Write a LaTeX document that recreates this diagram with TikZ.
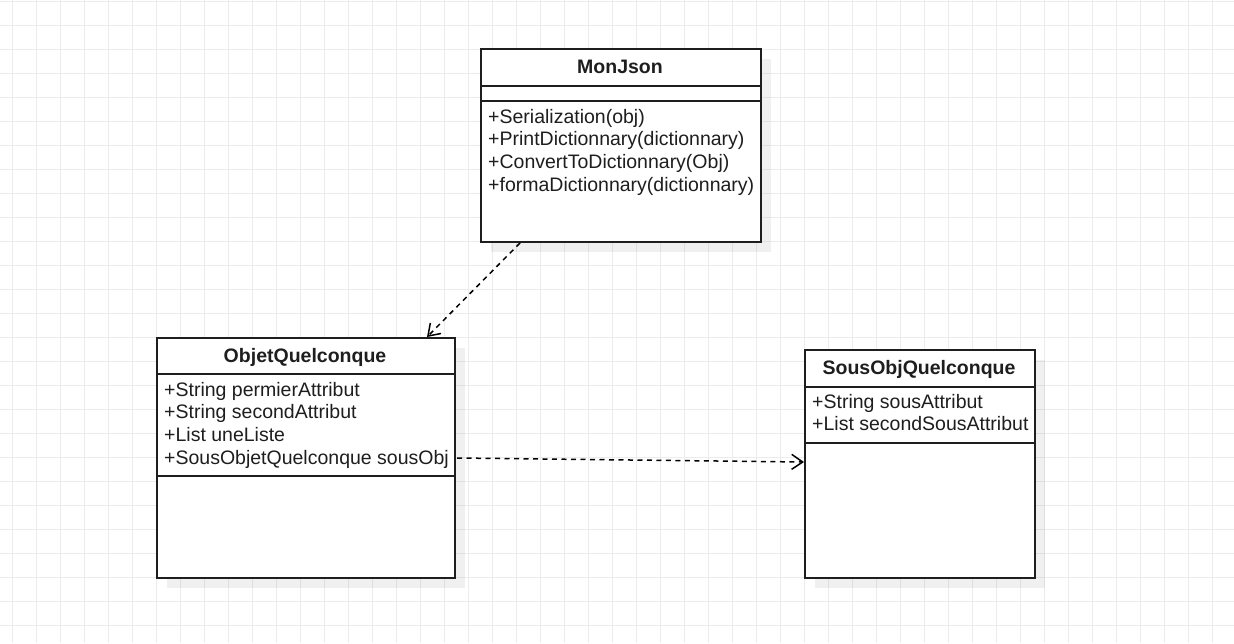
\documentclass[tikz,border=0pt]{standalone}
\usepackage{fontspec}
\setmainfont{Liberation Sans}
\usetikzlibrary{arrows.meta,calc,shadows}
\definecolor{gridgray}{RGB}{236,236,236}
\definecolor{ink}{RGB}{30,30,30}
\begin{document}
\begin{tikzpicture}[x=1pt,y=-1pt,
  classbox/.style={draw=ink, line width=2pt, fill=white, inner sep=0pt, anchor=north west,
    drop shadow={shadow xshift=10pt, shadow yshift=-10pt, fill=black, opacity=0.06}},
  sepline/.style={draw=ink, line width=1.8pt},
  classname/.style={font=\fontsize{19.5}{22}\selectfont\bfseries, text=ink, inner sep=0pt, anchor=base},
  member/.style={font=\fontsize{19.5}{22}\selectfont, text=ink, inner sep=0pt, anchor=base west},
  dep/.style={draw=black, line width=1.5pt, dash pattern=on 5pt off 4.5pt,
    -{Straight Barb[length=11pt,width=15pt,line width=1.5pt]}},
  gridline/.style={draw=gridgray, line width=1pt}]
\useasboundingbox (0,0) rectangle (1234,643);
\fill[white] (0,0) rectangle (1234,643);
% background grid
\foreach \x in {12,36,...,1236} \draw[gridline] (\x,0) -- (\x,643);
\foreach \y in {1,25,...,643} \draw[gridline] (0,\y) -- (1234,\y);

% MonJson
\node[classbox, minimum width=280pt, minimum height=193pt] (mj) at (480,48) {};
\draw[sepline] ($(mj.north west)+(0,38)$) -- ($(mj.north east)+(0,38)$);
\draw[sepline] ($(mj.north west)+(0,53)$) -- ($(mj.north east)+(0,53)$);
\node[classname] (mjt) at (620,73) {MonJson};
\node[member] (mj1) at (488,123) {+Serialization(obj)};
\node[member] (mj2) at (488,145.7) {+PrintDictionnary(dictionnary)};
\node[member] (mj3) at (488,168.4) {+ConvertToDictionnary(Obj)};
\node[member] (mj4) at (488,191.1) {+formaDictionnary(dictionnary)};

% ObjetQuelconque
\node[classbox, minimum width=298pt, minimum height=240pt] (oq) at (156,337) {};
\draw[sepline] ($(oq.north west)+(0,37)$) -- ($(oq.north east)+(0,37)$);
\draw[sepline] ($(oq.north west)+(0,139)$) -- ($(oq.north east)+(0,139)$);
\node[classname] (oqt) at (305,362) {ObjetQuelconque};
\node[member] (oq1) at (164,396) {+String permierAttribut};
\node[member] (oq2) at (164,418.7) {+String secondAttribut};
\node[member] (oq3) at (164,441.4) {+List uneListe};
\node[member] (oq4) at (164,464.1) {+SousObjetQuelconque sousObj};

% SousObjQuelconque
\node[classbox, minimum width=230pt, minimum height=228pt] (so) at (804,349) {};
\draw[sepline] ($(so.north west)+(0,38)$) -- ($(so.north east)+(0,38)$);
\draw[sepline] ($(so.north west)+(0,94)$) -- ($(so.north east)+(0,94)$);
\node[classname] (sot) at (919,374) {SousObjQuelconque};
\node[member] (so1) at (812,408) {+String sousAttribut};
\node[member] (so2) at (812,430.7) {+List secondSousAttribut};

% dependencies
\coordinate (d1s) at ($(mj.south west)+(40,0)$);
\coordinate (d1e) at ($(oq.north west)+(271,0)$);
\coordinate (d2s) at ($(oq.north east)+(1,121)$);
\coordinate (d2e) at ($(so.north west)+(0,113)$);
\draw[dep] (d1s) -- (d1e);
\draw[dep] (d2s) -- (d2e);
\end{tikzpicture}
\end{document}
